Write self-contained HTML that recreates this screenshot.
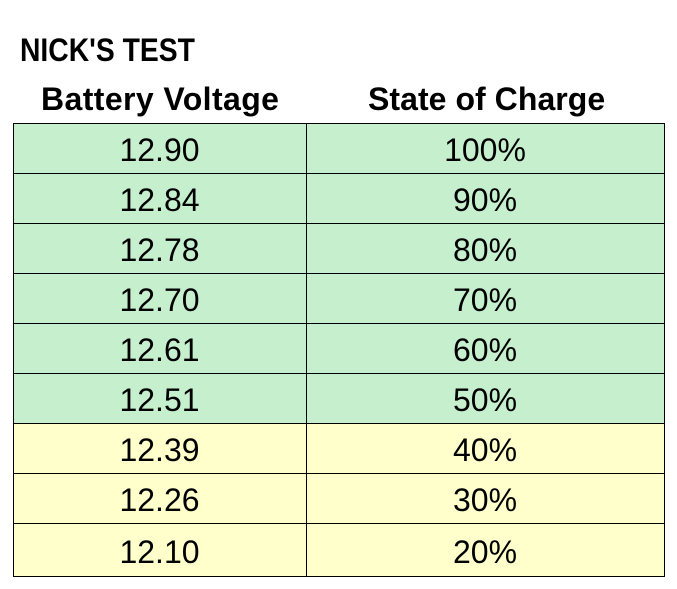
<!DOCTYPE html>
<html><head><meta charset="utf-8">
<style>
html,body{margin:0;padding:0;background:#fff;}
body{width:677px;height:589px;position:relative;overflow:hidden;font-family:"Liberation Sans",Arial,sans-serif;color:#000;}
.t{position:absolute;white-space:nowrap;}
.title{left:20px;top:30px;font-size:28px;font-weight:bold;line-height:36px;transform:scale(1.01,1.15);transform-origin:0 0;}
.h{font-size:32px;font-weight:bold;line-height:40px;top:79px;}
.cell{position:absolute;box-sizing:border-box;font-size:32px;line-height:50px;text-align:center;}
.g{background:#C6EFCE;}
.y{background:#FFFFCC;}
.hl{position:absolute;left:13px;width:652px;height:1px;background:#000;}
.vl{position:absolute;top:123px;height:454px;width:1px;background:#000;}
.cell span{position:relative;top:2px;}
</style></head><body>
<div class="t title">NICK'S TEST</div>
<div class="t h" style="left:41px;letter-spacing:0.4px;">Battery Voltage</div>
<div class="t h" style="left:368px;letter-spacing:0.05px;">State of Charge</div>

<div class="cell g" style="left:13px;top:123px;width:293px;height:50px;"><span>12.90</span></div>
<div class="cell g" style="left:306px;top:123px;width:358px;height:50px;"><span>100%</span></div>
<div class="cell g" style="left:13px;top:173px;width:293px;height:50px;"><span>12.84</span></div>
<div class="cell g" style="left:306px;top:173px;width:358px;height:50px;"><span>90%</span></div>
<div class="cell g" style="left:13px;top:223px;width:293px;height:50px;"><span>12.78</span></div>
<div class="cell g" style="left:306px;top:223px;width:358px;height:50px;"><span>80%</span></div>
<div class="cell g" style="left:13px;top:273px;width:293px;height:50px;"><span>12.70</span></div>
<div class="cell g" style="left:306px;top:273px;width:358px;height:50px;"><span>70%</span></div>
<div class="cell g" style="left:13px;top:323px;width:293px;height:50px;"><span>12.61</span></div>
<div class="cell g" style="left:306px;top:323px;width:358px;height:50px;"><span>60%</span></div>
<div class="cell g" style="left:13px;top:373px;width:293px;height:50px;"><span>12.51</span></div>
<div class="cell g" style="left:306px;top:373px;width:358px;height:50px;"><span>50%</span></div>
<div class="cell y" style="left:13px;top:423px;width:293px;height:50px;"><span>12.39</span></div>
<div class="cell y" style="left:306px;top:423px;width:358px;height:50px;"><span>40%</span></div>
<div class="cell y" style="left:13px;top:473px;width:293px;height:50px;"><span>12.26</span></div>
<div class="cell y" style="left:306px;top:473px;width:358px;height:50px;"><span>30%</span></div>
<div class="cell y" style="left:13px;top:523px;width:293px;height:53px;line-height:55px;"><span>12.10</span></div>
<div class="cell y" style="left:306px;top:523px;width:358px;height:53px;line-height:55px;"><span>20%</span></div>

<div class="hl" style="top:123px;"></div>
<div class="hl" style="top:173px;"></div>
<div class="hl" style="top:223px;"></div>
<div class="hl" style="top:273px;"></div>
<div class="hl" style="top:323px;"></div>
<div class="hl" style="top:373px;"></div>
<div class="hl" style="top:423px;"></div>
<div class="hl" style="top:473px;"></div>
<div class="hl" style="top:523px;"></div>
<div class="hl" style="top:576px;"></div>
<div class="vl" style="left:13px;"></div>
<div class="vl" style="left:306px;"></div>
<div class="vl" style="left:664px;"></div>
</body></html>
